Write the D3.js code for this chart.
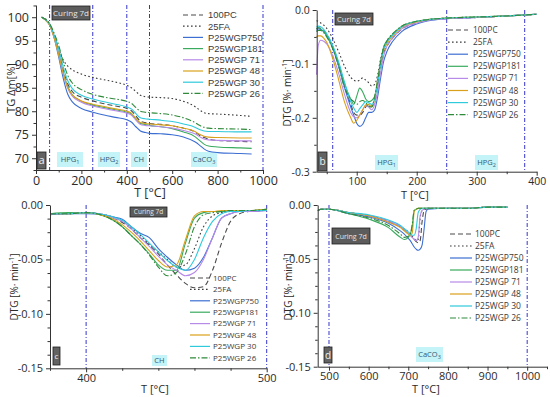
<!DOCTYPE html>
<html><head><meta charset="utf-8">
<script src="https://cdn.jsdelivr.net/npm/d3@7"></script>
<style>
body{margin:0;background:#fff}
svg{display:block;font-family:"Open Sans",sans-serif}
text{white-space:pre}
</style>
</head><body>
<svg id="chart" width="550" height="397"></svg>
<script>
// ---------- series ----------
const seriesNames  = ["100PC","25FA","P25WGP750","P25WGP181","P25WGP 71","P25WGP 48","P25WGP 30","P25WGP 26"];

// ---------- panel a : TG ----------
const tgT = [25,40,60,80,100,120,140,160,200,250,300,350,400,420,440,460,480,500,550,600,650,700,720,740,760,800,900,950];
const tg100PC = [100,99.6,98.5,96.0,92.8,88.8,85.8,84.2,83.0,82.2,81.6,81.1,80.6,80.1,79.0,77.9,77.6,77.4,77.2,76.9,76.4,75.6,74.9,74.4,74.1,73.8,73.6,73.5];
const tg25FA  = [100,99.7,98.6,96.2,93.3,90.9,89.6,88.8,87.9,87.2,86.7,86.2,85.5,85.0,84.2,83.4,83.1,83.0,82.9,82.7,82.1,81.0,80.3,79.7,79.5,79.4,79.1,78.9];
const tg750   = [100,99.5,98.4,95.6,91.5,87.0,83.6,82.0,80.6,79.8,79.2,78.7,78.2,77.7,76.7,75.8,75.5,75.3,75.2,75.0,74.5,73.5,72.8,72.0,71.5,71.2,71.0,70.9];
const tg181   = [100,99.5,98.4,95.8,92.3,88.3,85.2,83.5,82.1,81.3,80.8,80.3,79.8,79.4,78.3,77.4,77.2,77.0,76.7,76.3,75.6,74.6,73.8,73.0,72.6,72.4,72.2,72.1];
const tg71    = [100,99.5,98.3,95.7,92.1,88.0,84.9,83.2,81.9,81.1,80.6,80.1,79.6,79.2,78.1,77.2,77.0,76.9,76.7,76.4,75.9,75.2,74.6,74.1,73.9,73.8,73.7,73.7];
const tg48    = [100,99.5,98.3,95.6,92.0,88.0,85.0,83.5,82.2,81.5,81.0,80.5,80.0,79.6,78.5,77.6,77.4,77.3,77.1,76.9,76.4,75.7,75.1,74.7,74.5,74.4,74.3,74.3];
const tg30    = [100,99.6,98.5,96.2,93.2,89.4,86.5,84.8,83.4,82.6,82.0,81.5,80.9,80.5,79.5,78.6,78.4,78.3,78.1,77.8,77.3,76.6,76.1,75.8,75.7,75.7,75.6,75.6];
const tg26    = [100,99.6,98.6,96.6,94.0,90.5,87.6,86.0,84.6,83.6,83.0,82.6,82.1,81.7,80.8,80.0,79.8,79.7,79.5,79.2,78.6,77.6,77.0,76.6,76.4,76.3,76.2,76.1];

// ---------- panel b : DTG 30-400 ----------
const dbT = [33,36,40,45,50,60,70,80,90,95,100,105,110,115,120,125,130,135,140,145,150,160,175,200,225,250,300,350,400];
const db100PC = [-.035,-.033,-.034,-.038,-.045,-.068,-.1,-.14,-.175,-.19,-.195,-.195,-.19,-.18,-.175,-.178,-.17,-.14,-.105,-.08,-.068,-.052,-.036,-.024,-.018,-.016,-.014,-.011,-.008];
const db25FA  = [-.02,-.021,-.024,-.028,-.034,-.053,-.078,-.105,-.125,-.13,-.132,-.13,-.126,-.13,-.135,-.141,-.138,-.12,-.09,-.07,-.058,-.045,-.032,-.022,-.017,-.015,-.013,-.011,-.008];
const db750   = [-.038,-.035,-.036,-.04,-.047,-.07,-.105,-.145,-.18,-.195,-.21,-.216,-.212,-.2,-.19,-.19,-.185,-.16,-.125,-.095,-.078,-.058,-.04,-.026,-.019,-.016,-.014,-.011,-.008];
const db181   = [-.035,-.033,-.035,-.04,-.048,-.07,-.102,-.138,-.165,-.175,-.16,-.145,-.152,-.165,-.17,-.168,-.16,-.13,-.095,-.068,-.058,-.045,-.03,-.021,-.017,-.015,-.013,-.011,-.008];
const db71    = [-.12,-.065,-.056,-.058,-.063,-.085,-.118,-.158,-.19,-.198,-.2,-.195,-.185,-.178,-.18,-.185,-.175,-.15,-.115,-.085,-.068,-.052,-.035,-.024,-.018,-.016,-.014,-.011,-.008];
const db48    = [-.05,-.048,-.048,-.052,-.06,-.09,-.13,-.172,-.2,-.21,-.205,-.195,-.185,-.176,-.175,-.18,-.165,-.13,-.1,-.075,-.063,-.048,-.032,-.022,-.017,-.015,-.013,-.011,-.008];
const db30    = [-.032,-.03,-.031,-.036,-.044,-.066,-.097,-.135,-.17,-.182,-.19,-.183,-.176,-.17,-.172,-.175,-.165,-.135,-.1,-.072,-.06,-.046,-.031,-.021,-.017,-.015,-.013,-.011,-.008];
const db26    = [-.04,-.038,-.038,-.042,-.05,-.072,-.105,-.145,-.165,-.17,-.175,-.17,-.168,-.172,-.178,-.18,-.16,-.13,-.095,-.07,-.058,-.044,-.03,-.021,-.017,-.015,-.013,-.011,-.008];

// ---------- panel c : DTG 380-500 ----------
const dcT = [380,390,400,410,415,420,425,430,435,440,445,450,455,460,465,470,475,480,485,490,500];
const dc100PC = [-.008,-.008,-.007,-.009,-.012,-.016,-.022,-.03,-.037,-.045,-.055,-.064,-.072,-.076,-.075,-.06,-.035,-.015,-.008,-.006,-.005];
const dc25FA  = [-.008,-.008,-.007,-.009,-.011,-.015,-.021,-.028,-.036,-.043,-.05,-.057,-.055,-.04,-.02,-.01,-.007,-.006,-.006,-.005,-.005];
const dc750   = [-.009,-.008,-.008,-.009,-.011,-.013,-.02,-.026,-.03,-.04,-.048,-.055,-.06,-.058,-.048,-.03,-.012,-.008,-.006,-.006,-.005];
const dc181   = [-.008,-.007,-.007,-.01,-.014,-.02,-.028,-.036,-.045,-.055,-.06,-.06,-.035,-.012,-.007,-.006,-.006,-.005,-.005,-.005,-.004];
const dc71    = [-.008,-.008,-.007,-.009,-.012,-.015,-.022,-.03,-.038,-.047,-.055,-.06,-.065,-.062,-.05,-.03,-.012,-.008,-.006,-.006,-.005];
const dc48    = [-.008,-.008,-.007,-.01,-.013,-.018,-.025,-.033,-.042,-.051,-.057,-.055,-.032,-.01,-.006,-.006,-.005,-.005,-.005,-.005,-.004];
const dc30    = [-.008,-.008,-.007,-.009,-.011,-.014,-.02,-.027,-.035,-.043,-.051,-.057,-.06,-.05,-.03,-.015,-.008,-.006,-.006,-.005,-.005];
const dc26    = [-.008,-.008,-.007,-.01,-.014,-.02,-.028,-.036,-.046,-.057,-.065,-.062,-.045,-.02,-.009,-.007,-.006,-.005,-.005,-.005,-.004];

// ---------- panel d : DTG 470-950 ----------
const ddT = [472,480,500,550,600,650,680,690,700,705,710,715,720,725,730,735,740,745,750,800,850,900,950];
const dd100PC = [-.005,-.004,-.004,-.007,-.010,-.015,-.020,-.023,-.026,-.028,-.030,-.032,-.034,-.035,-.033,-.015,-.005,-.004,-.003,-.003,-.003,-.002,-.002];
const dd25FA  = [-.005,-.004,-.004,-.007,-.010,-.015,-.020,-.022,-.025,-.027,-.029,-.031,-.033,-.032,-.012,-.005,-.004,-.003,-.003,-.003,-.003,-.002,-.002];
const dd750   = [-.005,-.004,-.004,-.008,-.011,-.017,-.024,-.027,-.031,-.033,-.036,-.039,-.041,-.042,-.041,-.037,-.022,-.006,-.004,-.003,-.003,-.002,-.002];
const dd181   = [-.005,-.004,-.004,-.008,-.013,-.021,-.030,-.032,-.030,-.027,-.020,-.005,-.004,-.003,-.003,-.003,-.003,-.003,-.003,-.003,-.003,-.002,-.002];
const dd71    = [-.005,-.004,-.004,-.007,-.010,-.015,-.020,-.023,-.026,-.028,-.030,-.032,-.033,-.030,-.010,-.005,-.004,-.003,-.003,-.003,-.003,-.002,-.002];
const dd48    = [-.005,-.004,-.004,-.007,-.010,-.016,-.021,-.024,-.027,-.028,-.026,-.006,-.004,-.003,-.003,-.003,-.003,-.003,-.003,-.003,-.003,-.002,-.002];
const dd30    = [-.005,-.004,-.004,-.007,-.009,-.014,-.019,-.022,-.025,-.027,-.028,-.028,-.022,-.007,-.004,-.003,-.003,-.003,-.003,-.003,-.003,-.002,-.002];
const dd26    = [-.005,-.004,-.004,-.008,-.012,-.019,-.027,-.030,-.029,-.027,-.018,-.005,-.004,-.003,-.003,-.003,-.003,-.003,-.003,-.003,-.003,-.002,-.002];

// ---------- styles ----------
const seriesColors = ["#4a4a4a","#3a3a3a","#3d6fd2","#3aab5e","#b78ae8","#d9a11b","#2fcadb","#2f8a3a"];
const seriesDash   = ["5,3","1.6,2.4",null,null,null,null,null,"6,2,1.5,2"];
const vlineColor = "#3535cc";

const svg = d3.select("#chart");
const line = (x, y) => d3.line().x(d => x(d[0])).y(d => y(d[1])).curve(d3.curveMonotoneX);

function makeSeries(T, arrs) {
  return arrs.map(a => a.map((v, i) => [T[i], v]));
}
const minorC = d3.range(-0.1375, 0, 0.0125).filter(v => Math.abs(v*20 - Math.round(v*20)) > 0.01);

const panels = [
  {
    key: "a", left: 36, right: 263, top: 5, bottom: 170,
    xDomain: [0, 1000], yDomain: [67.5, 102.6],
    xMajor: [0,200,400,600,800,1000], xMinor: d3.range(100, 1000, 200),
    yMajor: [70,75,80,85,90,95,100], yMinor: [67.5,72.5,77.5,82.5,87.5,92.5,97.5,102.5],
    xFmt: d => d, yFmt: d => d, tickFont: 12.5,
    vlines: [60,250,400,500,1000],
    data: makeSeries(tgT, [tg100PC,tg25FA,tg750,tg181,tg71,tg48,tg30,tg26]),
    xLabel: {x: 150, y: 197, size: 12.5}, yLabel: {x: 15, y: 88, size: 11, text: "TG Δm[%]"},
    legend: {x1: 183, x2: 203, tx: 208, y0: 15, dy: 11.2, size: 9.4, font: "Liberation Sans, Arial, sans-serif"},
    curing: {x: 52, y: 6, w: 38, h: 14, size: 8},
    letter: {x: 37, y: 152, w: 9, h: 17, size: 11},
    regions: [{x: 57, w: 26, main: "HPG", sub: "1"},{x: 98, w: 22, main: "HPG", sub: "2"},{x: 131, w: 16, main: "CH", sub: ""},{x: 191, w: 26, main: "CaCO", sub: "3"}],
    regionY: 152, regionH: 15
  },
  {
    key: "b", left: 316.7, right: 536.7, top: 10, bottom: 171.7,
    xDomain: [33.3, 400], yDomain: [-0.3, 0],
    xMajor: [100,200,300,400], xMinor: [50,150,250,350],
    yMajor: [-0.3,-0.2,-0.1,0], yMinor: [-0.25,-0.15,-0.05],
    xFmt: d => d, yFmt: d => d.toFixed(1), tickFont: 10.5,
    vlines: [60,250,380],
    data: makeSeries(dbT, [db100PC,db25FA,db750,db181,db71,db48,db30,db26]),
    xLabel: {x: 415, y: 199, size: 11}, yLabel: {x: 291, y: 93, size: 10, text: "DTG"},
    legend: {x1: 448, x2: 468, tx: 473, y0: 30, dy: 12.1, size: 8.4},
    curing: {x: 335, y: 13, w: 38, h: 12, size: 7.5},
    letter: {x: 318, y: 152, w: 9, h: 19, size: 10},
    regions: [{x: 375, w: 23, main: "HPG", sub: "1"},{x: 475, w: 23, main: "HPG", sub: "2"}],
    regionY: 155, regionH: 15
  },
  {
    key: "c", left: 50, right: 266.7, top: 205, bottom: 368.3,
    xDomain: [380, 500], yDomain: [-0.15, 0],
    xMajor: [400,500], xMinor: [380,420,440,460,480],
    yMajor: [-0.15,-0.1,-0.05,0], yMinor: minorC,
    xFmt: d => d, yFmt: d => d.toFixed(2), tickFont: 11,
    vlines: [400,500],
    data: makeSeries(dcT, [dc100PC,dc25FA,dc750,dc181,dc71,dc48,dc30,dc26]),
    xLabel: {x: 155, y: 393, size: 11}, yLabel: {x: 18, y: 287, size: 10, text: "DTG"},
    legend: {x1: 190, x2: 210, tx: 213, y0: 278, dy: 11.4, size: 8},
    curing: {x: 130, y: 207, w: 37, h: 10, size: 6.5},
    letter: {x: 53, y: 347, w: 7, h: 18, size: 8},
    regions: [{x: 152, w: 15, main: "CH", sub: ""}],
    regionY: 355, regionH: 11
  },
  {
    key: "d", left: 317.7, right: 547, top: 205, bottom: 366.7,
    xDomain: [471.5, 1050], yDomain: [-0.15, 0],
    xMajor: [500,600,700,800,900,1000], xMinor: [550,650,750,850,950,1050],
    yMajor: [-0.15,-0.1,-0.05,0], yMinor: minorC,
    xFmt: d => d, yFmt: d => d.toFixed(2), tickFont: 11,
    vlines: [500,1000],
    data: makeSeries(ddT, [dd100PC,dd25FA,dd750,dd181,dd71,dd48,dd30,dd26]),
    xLabel: {x: 426, y: 393, size: 11}, yLabel: {x: 292, y: 287, size: 10, text: "DTG"},
    legend: {x1: 450, x2: 472, tx: 475, y0: 234, dy: 12, size: 8.5},
    curing: {x: 332, y: 228, w: 38, h: 16, size: 7},
    letter: {x: 324, y: 347, w: 8, h: 16, size: 10},
    regions: [{x: 416, w: 27, main: "CaCO", sub: "3"}],
    regionY: 347, regionH: 15
  }
];

function drawPanel(p) {
  const g = svg.append("g").attr("class", "panel-" + p.key);
  const x = d3.scaleLinear().domain(p.xDomain).range([p.left, p.right]);
  const y = d3.scaleLinear().domain(p.yDomain).range([p.bottom, p.top]);

  // region labels (cyan)
  p.regions.forEach(r => {
    g.append("rect").attr("x", r.x).attr("y", p.regionY).attr("width", r.w).attr("height", p.regionH)
      .attr("fill", "#c4f3f8");
    const t = g.append("text").attr("x", r.x + r.w/2).attr("y", p.regionY + p.regionH/2 + 2.5)
      .attr("text-anchor", "middle").attr("font-size", 7.5).attr("fill", "#355a72");
    t.append("tspan").text(r.main);
    if (r.sub) t.append("tspan").attr("font-size", 5.5).attr("dy", 2).text(r.sub);
  });

  // vertical dash-dot lines
  p.vlines.forEach(v => {
    g.append("line").attr("x1", x(v)).attr("x2", x(v)).attr("y1", p.top).attr("y2", p.bottom)
      .attr("stroke", vlineColor).attr("stroke-width", 1).attr("stroke-dasharray", "4,2,1,2");
  });

  // series
  p.data.forEach((s, i) => {
    g.append("path").datum(s).attr("d", line(x, y)).attr("fill", "none")
      .attr("stroke", seriesColors[i]).attr("stroke-width", 1.1)
      .attr("stroke-dasharray", seriesDash[i]);
  });

  // axes
  const ax = g.append("g").attr("transform", `translate(0,${p.bottom})`)
    .call(d3.axisBottom(x).tickValues(p.xMajor).tickFormat(p.xFmt).tickSize(4).tickSizeOuter(0));
  g.append("g").attr("transform", `translate(0,${p.bottom})`)
    .call(d3.axisBottom(x).tickValues(p.xMinor.filter(v => v >= p.xDomain[0] && v <= p.xDomain[1])).tickFormat("").tickSize(2.5).tickSizeOuter(0))
    .select(".domain").remove();
  const ay = g.append("g").attr("transform", `translate(${p.left},0)`)
    .call(d3.axisLeft(y).tickValues(p.yMajor).tickFormat(p.yFmt).tickSize(4).tickSizeOuter(0));
  g.append("g").attr("transform", `translate(${p.left},0)`)
    .call(d3.axisLeft(y).tickValues(p.yMinor).tickFormat("").tickSize(2.5).tickSizeOuter(0))
    .select(".domain").remove();
  [ax, ay].forEach(a => {
    a.selectAll("text").attr("font-size", p.tickFont).attr("fill", "#2b2b2b").attr("font-family", "Open Sans, sans-serif");
  });
  ax.selectAll("text").attr("y", 6);
  g.selectAll(".domain").attr("stroke", "#333");
  g.selectAll(".tick line").attr("stroke", "#333");

  // axis titles
  g.append("text").attr("x", p.xLabel.x).attr("y", p.xLabel.y).attr("text-anchor", "middle")
    .attr("font-size", p.xLabel.size).attr("fill", "#2b2b2b").text("T [°C]");
  const yl = g.append("text").attr("transform", `translate(${p.yLabel.x},${p.yLabel.y}) rotate(-90)`)
    .attr("text-anchor", "middle").attr("font-size", p.yLabel.size).attr("fill", "#2b2b2b");
  if (p.key === "a") {
    yl.text(p.yLabel.text);
  } else {
    yl.append("tspan").text("DTG [%· min");
    yl.append("tspan").attr("font-size", p.yLabel.size * 0.7).attr("dy", -4).text("-1");
    yl.append("tspan").attr("dy", 4).text("]");
  }

  // legend
  const L = p.legend;
  seriesNames.forEach((n, i) => {
    const yy = L.y0 + i * L.dy;
    g.append("line").attr("x1", L.x1).attr("x2", L.x2).attr("y1", yy).attr("y2", yy)
      .attr("stroke", seriesColors[i]).attr("stroke-width", 1.2).attr("stroke-dasharray", seriesDash[i]);
    const t = g.append("text").attr("x", L.tx).attr("y", yy + L.size * 0.36).attr("font-size", L.size)
      .attr("fill", "#3a3a3a").text(n);
    if (L.font) t.attr("font-family", L.font);
  });

  // "Curing 7d" box
  const C = p.curing;
  g.append("rect").attr("x", C.x).attr("y", C.y).attr("width", C.w).attr("height", C.h)
    .attr("fill", "#5c5c5c").attr("stroke", "#1f1f1f").attr("stroke-width", 0.8);
  g.append("text").attr("x", C.x + C.w/2).attr("y", C.y + C.h/2 + C.size*0.36).attr("text-anchor", "middle")
    .attr("font-size", C.size).attr("fill", "#e6e6e6").text("Curing 7d");

  // panel letter box
  const P = p.letter;
  g.append("rect").attr("x", P.x).attr("y", P.y).attr("width", P.w).attr("height", P.h)
    .attr("fill", "#626262").attr("stroke", "#1f1f1f").attr("stroke-width", 0.8);
  g.append("text").attr("x", P.x + P.w/2).attr("y", P.y + P.h/2 + P.size*0.36).attr("text-anchor", "middle")
    .attr("font-size", P.size).attr("fill", "#f0f0f0").text(p.key);
}

panels.forEach(drawPanel);
</script>
</body></html>
